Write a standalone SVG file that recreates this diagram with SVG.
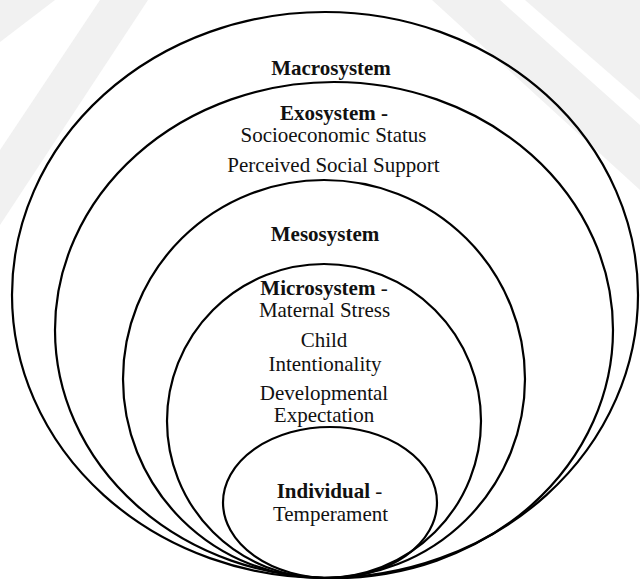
<svg xmlns="http://www.w3.org/2000/svg" width="640" height="583" viewBox="0 0 640 583">
  <style>
    .ring { fill: none; stroke: #000; stroke-width: 2.2; }
    .t { font-family: "Liberation Serif", "Times New Roman", serif; font-size: 21px; fill: #111; text-anchor: middle; }
    .b { font-weight: bold; }
    .wm { fill: #f1f1f1; }
  </style>
  <rect width="640" height="583" fill="#fff"/>
  <g id="watermark">
    <polygon class="wm" points="0,0 55,0 0,42"/>
    <polygon class="wm" points="100,0 148,0 0,225 0,150"/>
    <polygon class="wm" points="432,0 500,0 640,125 640,190"/>
    <polygon class="wm" points="525,0 640,0 640,100"/>
  </g>
  <g id="macrosystem">
    <ellipse class="ring" cx="325" cy="295" rx="313" ry="283"/>
    <text class="t b" x="331" y="75">Macrosystem</text>
  </g>
  <g id="exosystem">
    <ellipse class="ring" cx="334" cy="330" rx="279" ry="248"/>
    <text class="t b" x="334" y="120">Exosystem -</text>
    <text class="t" x="333.5" y="142">Socioeconomic Status</text>
    <text class="t" x="333.5" y="172">Perceived Social Support</text>
  </g>
  <g id="mesosystem">
    <ellipse class="ring" cx="324" cy="379" rx="201" ry="199"/>
    <text class="t b" x="325" y="241">Mesosystem</text>
  </g>
  <g id="microsystem">
    <ellipse class="ring" cx="324" cy="421" rx="157" ry="157"/>
    <text class="t" x="324" y="295"><tspan class="b">Microsystem</tspan> -</text>
    <text class="t" x="324.5" y="317">Maternal Stress</text>
    <text class="t" x="324" y="347">Child</text>
    <text class="t" x="325" y="371">Intentionality</text>
    <text class="t" x="324" y="400">Developmental</text>
    <text class="t" x="324" y="422">Expectation</text>
  </g>
  <g id="individual">
    <ellipse class="ring" cx="330" cy="502.5" rx="107" ry="75.5"/>
    <text class="t" x="329.5" y="498"><tspan class="b">Individual</tspan> -</text>
    <text class="t" x="330.5" y="521">Temperament</text>
  </g>
  <g id="connectors"/>
</svg>
